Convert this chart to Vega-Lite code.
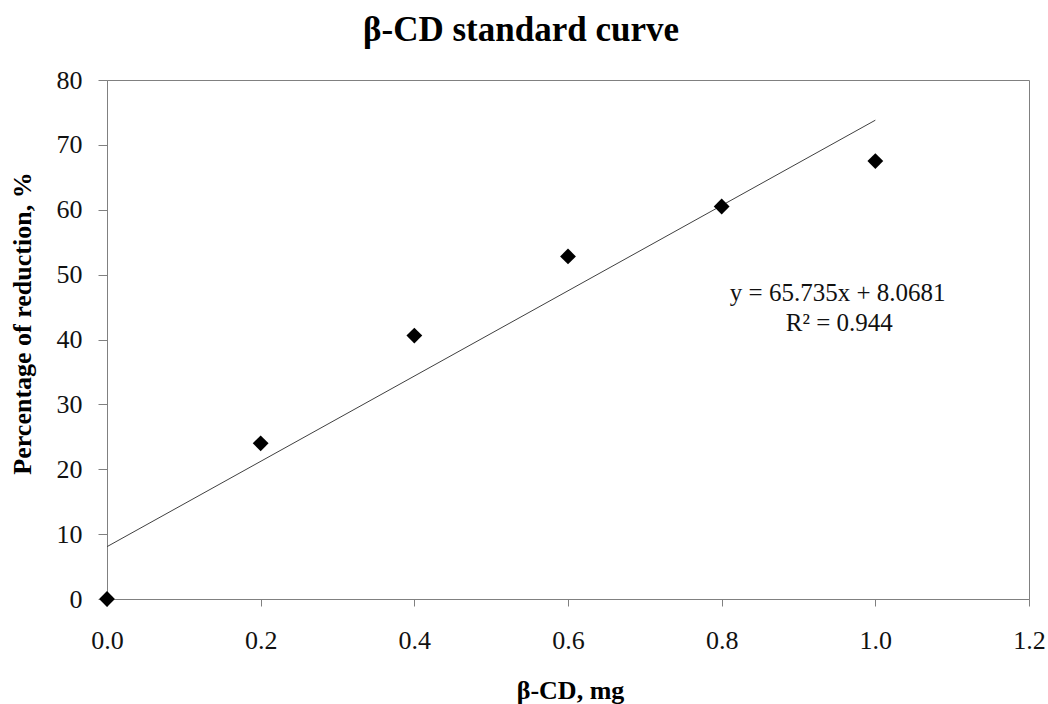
{
  "$schema": "https://vega.github.io/schema/vega-lite/v6.json",
  "width": 922,
  "height": 519,
  "autosize": {"type": "none"},
  "padding": {"left": 107, "top": 80, "right": 19, "bottom": 105},
  "background": "white",
  "config": {
    "font": "Liberation Serif",
    "view": {"stroke": "#808080", "strokeWidth": 1},
    "axis": {
      "grid": false,
      "domainColor": "#808080",
      "tickColor": "#808080",
      "labelColor": "#111111",
      "titleColor": "#000000",
      "labelFont": "Liberation Serif",
      "titleFont": "Liberation Serif",
      "labelFontSize": 26,
      "titleFontSize": 26,
      "titleFontWeight": "bold",
      "labelFontWeight": "normal"
    }
  },
  "title": {
    "text": "β-CD standard  curve",
    "font": "Liberation Serif",
    "fontSize": 35,
    "fontWeight": "bold",
    "color": "#000000",
    "anchor": "middle",
    "dx": -47,
    "baseline": "alphabetic",
    "offset": -9
  },
  "datasets": {
    "points": [
      {"dose": 0.0, "reduction": 0.0},
      {"dose": 0.2, "reduction": 24.0},
      {"dose": 0.4, "reduction": 40.6},
      {"dose": 0.6, "reduction": 52.8},
      {"dose": 0.8, "reduction": 60.5},
      {"dose": 1.0, "reduction": 67.5}
    ],
    "trend": [
      {"dose": 0.0, "reduction": 8.0681},
      {"dose": 1.0, "reduction": 73.8031}
    ],
    "labels": [
      {"dose": 0.951, "reduction": 45.9, "text": "y = 65.735x + 8.0681"},
      {"dose": 0.953, "reduction": 41.3, "text": "R² = 0.944"}
    ]
  },
  "layer": [
    {
      "data": {"name": "trend"},
      "mark": {"type": "line", "color": "#404040", "strokeWidth": 1},
      "encoding": {
        "x": {
          "field": "dose",
          "type": "quantitative",
          "scale": {"domain": [0, 1.2], "nice": false, "zero": true},
          "axis": {
            "title": "β-CD, mg",
            "values": [0, 0.2, 0.4, 0.6, 0.8, 1.0, 1.2],
            "format": ".1f",
            "tickSize": 7,
            "labelPadding": 21,
            "labelBaseline": "top",
            "titleX": 463,
            "titleY": 99,
            "titleAlign": "center",
            "titleBaseline": "alphabetic",
            "labelFlush": false
          }
        },
        "y": {
          "field": "reduction",
          "type": "quantitative",
          "scale": {"domain": [0, 80], "nice": false},
          "axis": {
            "title": "Percentage of reduction, %",
            "values": [0, 10, 20, 30, 40, 50, 60, 70, 80],
            "tickSize": 9,
            "labelPadding": 16,
            "titleX": -85,
            "titleY": 243,
            "titleAngle": 270,
            "titleAlign": "center",
            "titleBaseline": "middle",
            "labelFlush": false
          }
        }
      }
    },
    {
      "data": {"name": "points"},
      "mark": {"type": "point", "shape": "diamond", "filled": true, "size": 250, "color": "#000000", "opacity": 1},
      "encoding": {
        "x": {"field": "dose", "type": "quantitative"},
        "y": {"field": "reduction", "type": "quantitative"}
      }
    },
    {
      "data": {"name": "labels"},
      "mark": {"type": "text", "fontSize": 25, "font": "Liberation Serif", "align": "center", "baseline": "alphabetic", "color": "#111111"},
      "encoding": {
        "x": {"field": "dose", "type": "quantitative"},
        "y": {"field": "reduction", "type": "quantitative"},
        "text": {"field": "text"}
      }
    }
  ]
}
